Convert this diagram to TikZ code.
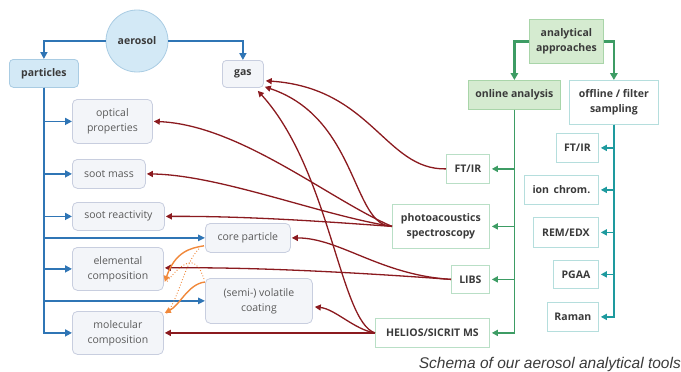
\documentclass[tikz,border=0pt]{standalone}
\usepackage{fontspec}
\setmainfont{Open Sans}
\newfontfamily\capfont{Liberation Sans}
\usetikzlibrary{arrows.meta}
\definecolor{bl}{HTML}{2F75B5}
\definecolor{pfill}{HTML}{D3E9F6}
\definecolor{pbord}{HTML}{A9CCE3}
\definecolor{lfill}{HTML}{F3F5F9}
\definecolor{lbord}{HTML}{C8CEDF}
\definecolor{rd}{HTML}{8B1A1F}
\definecolor{orc}{HTML}{F0883A}
\definecolor{gn}{HTML}{3D9C64}
\definecolor{tl}{HTML}{1E9A9E}
\definecolor{gfill}{HTML}{D5EBD0}
\definecolor{gbord}{HTML}{A9D5A9}
\definecolor{rbord}{HTML}{B9DFC6}
\definecolor{tbord}{HTML}{B5DEDD}
\definecolor{tgray}{HTML}{5A5A5A}
\definecolor{tdark}{HTML}{3A3A3A}
\begin{document}
\begin{tikzpicture}[x=1pt,y=-1pt,
  every node/.style={font=\fontsize{10.5}{15}\selectfont, align=center, inner sep=0pt},
  lbox/.style={draw=lbord, fill=lfill, rounded corners=5pt, text=tgray, line width=0.8pt, anchor=north west},
  pbox/.style={draw=pbord, fill=pfill, rounded corners=4pt, text=tdark, line width=0.8pt, anchor=north west, font=\fontsize{10.5}{15}\selectfont\bfseries},
  gbox/.style={draw=lbord, fill=lfill, rounded corners=4pt, text=tdark, line width=0.8pt, anchor=north west, font=\fontsize{10.5}{15}\selectfont\bfseries},
  grbox/.style={draw=gbord, fill=gfill, text=tdark, line width=0.8pt, anchor=north west, font=\fontsize{10.5}{15}\selectfont\bfseries},
  obox/.style={draw=rbord, fill=white, text=tdark, line width=0.8pt, anchor=north west, font=\fontsize{10.5}{15}\selectfont\bfseries},
  fbox/.style={draw=tbord, fill=white, text=tdark, line width=0.8pt, anchor=north west, font=\fontsize{10.5}{15}\selectfont\bfseries},
  bluearr/.style={draw=bl, line width=2pt, -{Triangle[length=7pt,width=7pt]}},
  bluethin/.style={draw=bl, line width=1.3pt, -{Triangle[length=7pt,width=6.5pt]}},
  redarr/.style={draw=rd, line width=1.3pt, -{Triangle[length=6pt,width=6pt]}},
  orarr/.style={draw=orc, line width=1.4pt, -{Triangle[length=6pt,width=6pt]}},
  ordot/.style={draw=orc, line width=0.9pt, dotted},
  grarr/.style={draw=gn, line width=2.2pt, -{Triangle[length=7pt,width=7.5pt]}},
  gnline/.style={draw=gn, line width=1.5pt, -{Triangle[length=6pt,width=6pt]}, shorten >=2pt},
  tlline/.style={draw=tl, line width=1.5pt, -{Triangle[length=6pt,width=6pt]}, shorten >=2pt}
]
\useasboundingbox (0,0) rectangle (681,372);

% left side
\node[circle, draw=pbord, fill=pfill, line width=0.8pt, minimum size=62pt, text=tdark, font=\fontsize{10.5}{15}\selectfont\bfseries] (aer) at (137,41) {aerosol};
\node[pbox, minimum width=69pt, minimum height=28pt] (part) at (9,59) {particles};
\node[gbox, minimum width=41pt, minimum height=27pt] (gas) at (222,60) {gas};
\node[lbox, minimum width=80pt, minimum height=44pt] (opt) at (72,99) {optical\\properties};
\node[lbox, minimum width=73pt, minimum height=29pt] (smass) at (72,159) {soot mass};
\node[lbox, minimum width=92pt, minimum height=28pt] (sreac) at (72,202) {soot reactivity};
\node[lbox, minimum width=85pt, minimum height=29pt] (core) at (205,223) {core particle};
\node[lbox, minimum width=91pt, minimum height=43pt] (elem) at (72,247) {elemental\\composition};
\node[lbox, minimum width=107pt, minimum height=45pt] (coat) at (205,278) {(semi-) volatile\\coating};
\node[lbox, minimum width=91pt, minimum height=43pt] (mol) at (72,311) {molecular\\composition};

% right side
\node[grbox, minimum width=74pt, minimum height=44pt] (app) at (529,19) {analytical\\approaches};
\node[grbox, minimum width=92pt, minimum height=29pt] (onl) at (468,80) {online analysis};
\node[fbox, minimum width=89pt, minimum height=44pt] (off) at (569,80) {offline / filter\\sampling};
\node[obox, minimum width=43pt, minimum height=29pt] (ftA) at (446,154) {FT/IR};
\node[obox, minimum width=97pt, minimum height=44pt] (pas) at (392,204) {photoacoustics\\spectroscopy};
\node[obox, minimum width=38pt, minimum height=28pt] (libs) at (451,265) {LIBS};
\node[obox, minimum width=114pt, minimum height=29pt] (hel) at (375,318) {HELIOS/SICRIT MS};
\node[fbox, minimum width=42pt, minimum height=29pt] (ftB) at (556,133) {FT/IR};
\node[fbox, minimum width=74pt, minimum height=29pt] (ion) at (524,175) {ion\, chrom.};
\node[fbox, minimum width=65pt, minimum height=30pt] (rem) at (533,217) {REM/EDX};
\node[fbox, minimum width=45pt, minimum height=28pt] (pgaa) at (553,260) {PGAA};
\node[fbox, minimum width=51pt, minimum height=29pt] (ram) at (547,302) {Raman};

% caption
\node[anchor=base east, font=\capfont\itshape\fontsize{15.5}{18}\selectfont, text=tdark] (cap) at (681,368) {Schema of our aerosol analytical tools};

% blue connectors
\draw[bluearr] (aer.west) -| (part.north);
\draw[bluearr] (aer.east) -| (gas.north);
\foreach \n in {opt,smass,sreac,elem,mol}
  \draw[bluearr, line width=1.8pt] (part.south) |- (\n.west);
\draw[bluethin] (part.south) |- (core.west);
\draw[bluethin] (part.south) |- (coat.west);

% green connectors
\draw[grarr] (app.west) -| (onl.north);
\draw[grarr] (app.east) -| (off.north);
\foreach \n in {ftA,pas,libs,hel}
  \draw[gnline] (onl.south) |- (\n.east);
\foreach \n in {ftB,ion,rem,pgaa,ram}
  \draw[tlline] (off.south) |- (\n.east);

% red connectors
\draw[redarr] (ftA.west) .. controls (385,170) and (372,88) .. ([shift={(2pt,7pt)}]gas.south east);
\draw[redarr] (pas.west) .. controls (352,226) and (358,118) .. ([shift={(1pt,1pt)}]gas.south east);
\draw[redarr] (hel.west) .. controls (340,322) and (330,170) .. ([shift={(-6pt,-3pt)}]gas.south east);
\draw[redarr] (pas.west) .. controls (330,200) and (240,125) .. ([xshift=1pt]opt.east);
\draw[redarr] (pas.west) .. controls (320,215) and (220,175) .. ([xshift=1pt]smass.east);
\draw[redarr] (pas.west) .. controls (330,222) and (250,216) .. ([xshift=1pt]sreac.east);
\draw[redarr] (libs.west) .. controls (380,275) and (340,238) .. ([xshift=1pt]core.east);
\draw[redarr] (libs.west) .. controls (350,272) and (250,267) .. ([xshift=1pt,yshift=1pt]elem.east);
\draw[redarr] (hel.west) .. controls (355,330) and (335,309) .. ([shift={(2pt,-6pt)}]coat.east);
\draw[redarr] (hel.west) -- ([xshift=1pt]mol.east);

% orange connectors
\draw[orarr] ([shift={(-1pt,7pt)}]core.south west) .. controls (190,248) and (175,252) .. ([shift={(1pt,-13pt)}]elem.east);
\draw[orarr] ([shift={(0pt,-4pt)}]coat.north west) .. controls (188,284) and (180,305) .. ([shift={(1pt,20pt)}]mol.east);
\draw[ordot] ([shift={(-6pt,4pt)}]core.south west) .. controls (185,262) and (180,295) .. ([shift={(3pt,19pt)}]mol.east);
\draw[ordot] ([shift={(-1pt,-1pt)}]coat.north west) .. controls (198,262) and (190,252) .. ([shift={(3pt,-13pt)}]elem.east);
\end{tikzpicture}
\end{document}
